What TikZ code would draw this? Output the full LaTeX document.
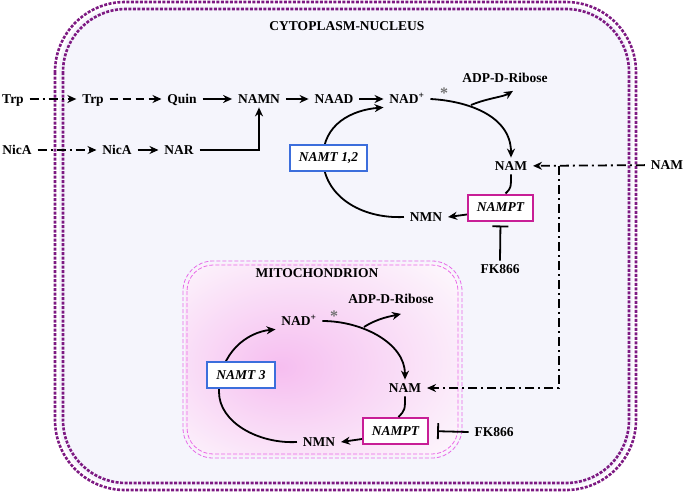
\documentclass[tikz,border=0pt]{standalone}
\usepackage{fontspec}
\setmainfont{Liberation Serif}
\usetikzlibrary{arrows.meta}

\definecolor{cellfill}{RGB}{245,245,252}
\definecolor{membrane}{RGB}{125,25,130}
\definecolor{mitoline}{RGB}{232,105,232}
\definecolor{mitopink}{RGB}{246,190,240}
\definecolor{mitoedge}{RGB}{252,245,252}
\definecolor{enzblue}{RGB}{60,110,220}
\definecolor{enzpink}{RGB}{200,30,150}

\pgfdeclareradialshading{mitoglow}{\pgfpoint{-8bp}{-2bp}}{color(0bp)=(mitopink); color(34bp)=(mitoedge); color(50bp)=(mitoedge)}

\begin{document}
\begin{tikzpicture}[x=1pt, y=-1pt, line width=1.8pt, >={Stealth[length=9pt,width=8pt]},
    lbl/.style={font=\fontsize{13.5}{14}\selectfont\bfseries, inner xsep=5pt, inner ysep=3pt, text height=9pt, text depth=0pt},
    enzyme/.style={draw, line width=2pt, fill=white, font=\fontsize{13.5}{14}\selectfont\bfseries\itshape, inner xsep=9pt, minimum height=26pt},
    asterisk/.style={font=\fontsize{16}{16}\selectfont\bfseries, text=black!55, inner sep=0pt},
    dashline/.style={dash pattern=on 8pt off 5pt},
    dashdotline/.style={dash pattern=on 9pt off 4pt on 2pt off 4pt}]

    % Fix picture size
    \useasboundingbox (0,0) rectangle (685,493);

    % Draw cell membrane
    \fill[cellfill, rounded corners=66pt] (59,5.5) rectangle (632.5,486.5);
    \draw[membrane, line width=2.6pt, dash pattern=on 3pt off 1.5pt, rounded corners=70pt] (55,2) rectangle (636,490);
    \draw[membrane, line width=2.6pt, dash pattern=on 3pt off 1.5pt, rounded corners=63pt] (63,9) rectangle (629,483);

    % Draw mitochondrion
    \shade[shading=mitoglow, rounded corners=28pt] (185,263) rectangle (460,456);
    \draw[mitoline, line width=0.8pt, dash pattern=on 4pt off 2pt, rounded corners=30pt] (183,261) rectangle (462,458);
    \draw[mitoline, line width=0.8pt, dash pattern=on 4pt off 2pt, rounded corners=26pt] (187,265) rectangle (458,454);

    % Compartment titles
    \node[lbl] (cyttitle) at (347,26) {CYTOPLASM-NUCLEUS};
    \node[lbl] (mittitle) at (317,273) {MITOCHONDRION};

    % Draw de novo and Preiss-Handler routes
    \node[lbl] (trpout) at (13,99) {Trp};
    \node[lbl] (trpin) at (93,99) {Trp};
    \node[lbl] (quin) at (182,99) {Quin};
    \node[lbl] (namn) at (259,99) {NAMN};
    \node[lbl] (naad) at (334,99) {NAAD};
    \node[lbl] (nad) at (407,99) {NAD\textsuperscript{+}};
    \node[lbl] (nicaout) at (17,150) {NicA};
    \node[lbl] (nicain) at (117,150) {NicA};
    \node[lbl] (nar) at (179,150) {NAR};

    \draw[->, dashdotline] (trpout) -- (trpin);
    \draw[->, dashline] (trpin) -- (quin);
    \draw[->] (quin) -- (namn);
    \draw[->] (namn) -- (naad);
    \draw[->] (naad) -- (nad);
    \draw[->, dashdotline] (nicaout) -- (nicain);
    \draw[->] (nicain) -- (nar);
    \draw[->] (nar) -| (namn);

    % Draw salvage cycle in cytoplasm-nucleus
    \node[lbl] (adp) at (505,78) {ADP-D-Ribose};
    \node[asterisk] (star) at (444,93) {*};
    \node[lbl] (nam) at (511,166) {NAM};
    \node[lbl] (nmn) at (426,217) {NMN};
    \node[lbl] (fk) at (500,269) {FK866};
    \node[lbl] (namout) at (667,165) {NAM};
    \coordinate (cycleleft) at (323,158);
    \coordinate (ribosefork) at (471,105);

    \draw[->] (nmn.west) .. controls (360,219) and (323,195) .. (cycleleft)
        .. controls (323,124) and (352,110) .. (nad.south west);
    \draw[->] (nad.east) .. controls (468,101) and (511,116) .. (nam.north);
    \draw[->] (ribosefork) .. controls (488,98) and (503,97) .. ([shift={(8,4.5)}]adp.south);

    \node[enzyme, draw=enzblue] (namt) at (328.5,158) {NAMT 1,2};
    \node[enzyme, draw=enzpink] (nampt) at (500.5,207.5) {NAMPT};

    \draw (nam.south) .. controls (511,188) .. ([xshift=5pt]nampt.north);
    \draw[->] ([yshift=-7pt]nampt.west) -- (nmn.east);
    \draw[-{Bar[width=16pt]}, shorten >=4pt] (fk.north) -- (nampt.south);

    % Draw salvage cycle in mitochondrion
    \node[lbl] (madp) at (391,299) {ADP-D-Ribose};
    \node[asterisk] (mstar) at (334,316) {*};
    \node[lbl] (mnad) at (299,321) {NAD\textsuperscript{+}};
    \node[lbl] (mnam) at (405,388) {NAM};
    \node[lbl] (mnmn) at (319,442) {NMN};
    \node[lbl] (mfk) at (494,432) {FK866};
    \coordinate (mcycleleft) at (219,392);
    \coordinate (mribosefork) at (364,327);

    \draw[->] (mnmn.west) .. controls (258,444) and (219,422) .. (mcycleleft)
        .. controls (219,352) and (248,332) .. (mnad.south west);
    \draw[->] (mnad.east) .. controls (362,321) and (405,343) .. (mnam.north);
    \draw[->] (mribosefork) .. controls (378,318) and (392,316) .. ([shift={(10,6.5)}]madp.south);

    \node[enzyme, draw=enzblue] (mnamt) at (241,375) {NAMT 3};
    \node[enzyme, draw=enzpink] (mnampt) at (395.5,431) {NAMPT};

    \draw (mnam.south) .. controls (405,410) .. ([xshift=3pt]mnampt.north);
    \draw[->] ([yshift=-8pt]mnampt.west) -- (mnmn.east);
    \draw[-{Bar[width=16pt]}, shorten >=8pt] (mfk.west) -- (mnampt.east);

    % Draw nicotinamide import
    \coordinate (namsplit) at (559,166);
    \draw[->, dashdotline] (namout) -- (nam);
    \draw[->, dashdotline] (namsplit) |- (mnam);
\end{tikzpicture}
\end{document}
